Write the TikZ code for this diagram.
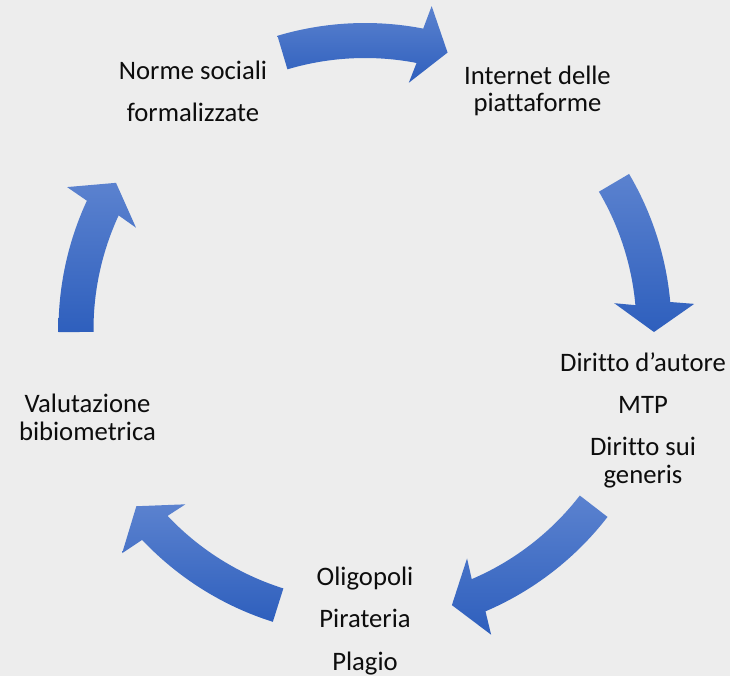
\documentclass[tikz,border=0pt]{standalone}
\usepackage{fontspec}
\setmainfont{Carlito}[Ligatures=CommonOff]
\usetikzlibrary{calc}
\definecolor{cyclebg}{HTML}{EDEDED}
\definecolor{arrowtop}{HTML}{5B82CF}
\definecolor{arrowbottom}{HTML}{2E5FBD}
\definecolor{labeltext}{HTML}{0D0D0D}

\newcommand{\arcrad}{289}
\newcommand{\halfbody}{17.5}
\newcommand{\halfhead}{40}
\newcommand{\headlen}{28.5}
% #1 tail angle, #2 tip angle (clockwise)
\newcommand{\cyclearrow}[2]{%
  \pgfmathsetmacro{\headang}{#2+\headlen/\arcrad*180/pi}%
  \path[cyclearrowfill] (#1:{\arcrad+\halfbody}) arc[start angle=#1, end angle=\headang, radius={\arcrad+\halfbody}]
    -- ($(#2:\arcrad)+(#2+90:\headlen)+(#2:\halfhead)$)
    -- (#2:\arcrad)
    -- ($(#2:\arcrad)+(#2+90:\headlen)-(#2:\halfhead)$)
    -- (\headang:{\arcrad-\halfbody}) arc[start angle=\headang, end angle=#1, radius={\arcrad-\halfbody}]
    -- cycle;
}

\begin{document}
\begin{tikzpicture}[x=0.75pt, y=0.75pt,
    cyclearrowfill/.style={top color=arrowtop, bottom color=arrowbottom, draw=none},
    cyclelabel/.style={align=center, inner sep=0pt, anchor=base, text=labeltext, font=\fontsize{20}{20.6}\selectfont}]
  \useasboundingbox[fill=cyclebg] (-365,-346.5) rectangle (365,329.5);

  \cyclearrow{106.6}{73.4}
  \cyclearrow{30.5}{-0.5}
  \cyclearrow{-37.7}{-72.5}
  \cyclearrow{-107.5}{-142.3}
  \cyclearrow{180.5}{149.5}

  % base = baseline of the last line
  \node[cyclelabel] (norme) at (-172,207.8) {Norme sociali\\[11pt]formalizzate};
  \node[cyclelabel] (internet) at (172.5,217.8) {Internet delle\\piattaforme};
  \node[cyclelabel] (diritto) at (278,-153.8) {Diritto d’autore\\[11pt]MTP\\[11pt]Diritto sui\\generis};
  \node[cyclelabel] (oligopoli) at (0,-340.5) {Oligopoli\\[11pt]Pirateria\\[11pt]Plagio};
  \node[cyclelabel] (valutazione) at (-277.5,-110.5) {Valutazione\\bibiometrica};
\end{tikzpicture}
\end{document}
